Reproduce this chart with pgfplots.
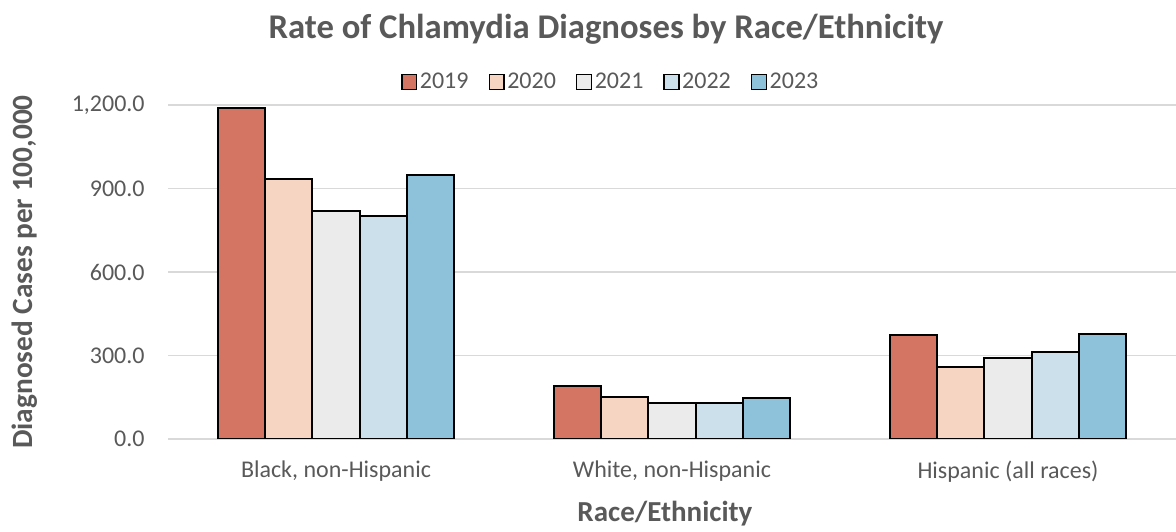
\documentclass[border=0pt]{standalone}
\usepackage{pgfplots}
\pgfplotsset{compat=1.18}
\usepackage{fontspec}
\setmainfont{Carlito}
\definecolor{c19}{RGB}{212,117,100}
\definecolor{c20}{RGB}{246,213,195}
\definecolor{c21}{RGB}{235,235,235}
\definecolor{c22}{RGB}{204,224,235}
\definecolor{c23}{RGB}{142,193,218}
\definecolor{txt}{RGB}{89,89,89}
\definecolor{grd}{RGB}{217,217,217}
\begin{document}
\begin{tikzpicture}
\useasboundingbox (0,0) rectangle (882pt,398.25pt);
\begin{axis}[
  at={(126pt,69pt)}, anchor=south west,
  scale only axis, width=756pt, height=250.5pt,
  ybar=0pt, bar width=0.14,
  xmin=-0.5, xmax=2.5, ymin=0, ymax=1200,
  xtick={0,1,2}, xticklabels={{Black, non-Hispanic}, {White, non-Hispanic}, {Hispanic (all races)}},
  ytick={0,300,600,900,1200},
  axis x line*=bottom, axis y line*=left,
  x axis line style={draw=grd, line width=1pt},
  y axis line style={draw=none},
  major tick length=0pt,
  ymajorgrids, grid style={draw=grd, line width=1pt},
  yticklabel style={font=\fontsize{18}{20}\selectfont, text=txt, xshift=-14pt},
  xticklabel style={font=\fontsize{18}{20}\selectfont, text=txt, yshift=-13pt},
  /pgf/number format/.cd, fixed, fixed zerofill, precision=1, 1000 sep={,}, assume math mode=true,
  /pgfplots/.cd,
  title={Rate of Chlamydia Diagnoses by Race/Ethnicity},
  title style={at={(axis description cs:0.4345,1.2036)}, anchor=center, font=\fontsize{26}{30}\selectfont\bfseries, text=txt},
  xlabel={Race/Ethnicity},
  xlabel style={at={(axis description cs:0.493,-0.2246)}, anchor=center, font=\fontsize{21.75}{24}\selectfont\bfseries, text=txt},
  ylabel={Diagnosed Cases per 100,000},
  ylabel style={at={(axis description cs:-0.1419,0.5)}, anchor=center, font=\fontsize{22}{24}\selectfont\bfseries, text=txt},
  legend style={at={(axis description cs:0.4395,1.069)}, anchor=center, draw=none, fill=none,
    legend columns=5, font=\fontsize{18}{20}\selectfont, text=txt,
    /tikz/every even column/.append style={column sep=13pt}},
  legend image code/.code={\draw[#1, draw=black, line width=1.1pt] (0pt,-5.5pt) rectangle (11pt,5.5pt);},
]
\addplot[fill=c19, draw=black, line width=1.5pt] coordinates {(0,1189) (1,191) (2,375)};
\addplot[fill=c20, draw=black, line width=1.5pt] coordinates {(0,935) (1,151) (2,259)};
\addplot[fill=c21, draw=black, line width=1.5pt] coordinates {(0,818) (1,129) (2,291)};
\addplot[fill=c22, draw=black, line width=1.5pt] coordinates {(0,802) (1,131) (2,313)};
\addplot[fill=c23, draw=black, line width=1.5pt] coordinates {(0,947) (1,148) (2,376)};
\legend{2019,2020,2021,2022,2023}
\end{axis}
\end{tikzpicture}
\end{document}
